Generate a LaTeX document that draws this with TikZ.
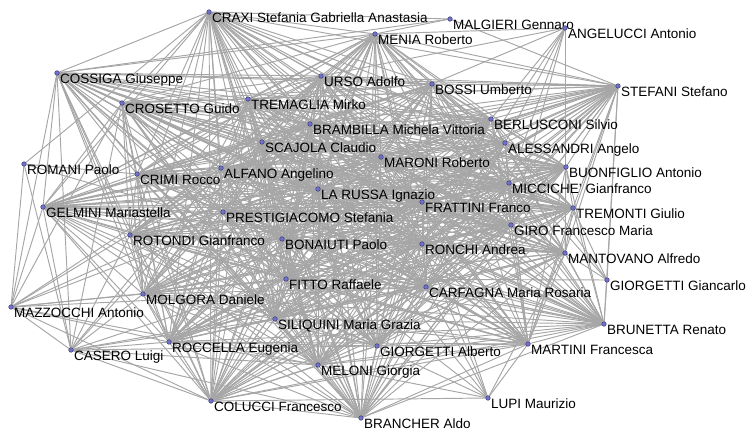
\documentclass[tikz,border=0pt]{standalone}
\usepackage{fontspec}
\setmainfont{Liberation Sans}
\usetikzlibrary{backgrounds}

\definecolor{edgegray}{RGB}{166,166,166}
\definecolor{dotfill}{RGB}{112,114,200}
\definecolor{dotline}{RGB}{50,50,110}

\tikzset{
  dot/.style={circle, fill=dotfill, draw=dotline, line width=0.4pt, inner sep=0pt, minimum size=4.6pt},
  lbl/.style={anchor=north west, inner sep=0pt, font=\fontsize{13.5}{15}\selectfont, text height=9.7pt, text depth=3pt},
  edge/.style={draw=edgegray, line width=0.95pt}
}

\newcommand{\pers}[4]{%
  \node[dot] (#1) at (#2,#3) {};
  \node[lbl] (#1-t) at ([xshift=3pt,yshift=-0.5pt]#1.center) {#4};}

\def\core{craxi,menia,cossiga,urso,bossi,stefani,crosetto,tremaglia,brambilla,berlusconi,scajola,alessandri,crimi,alfano,maroni,buonfiglio,micciche,larussa,frattini,gelmini,prestigiacomo,tremonti,giro,rotondi,bonaiuti,ronchi,mantovano,fitto,carfagna,molgora,siliquini,brunetta,roccella,giorgettial,martini,meloni,colucci,brancher}

\begin{document}
\begin{tikzpicture}[x=1pt, y=-1pt]
\useasboundingbox (0,0) rectangle (748,433);

\pers{craxi}{209}{12}{CRAXI Stefania Gabriella Anastasia}
\pers{malgieri}{450}{19}{MALGIERI Gennaro}
\pers{menia}{375}{34}{MENIA Roberto}
\pers{angelucci}{565}{28}{ANGELUCCI Antonio}
\pers{cossiga}{57}{73}{COSSIGA Giuseppe}
\pers{urso}{321}{76}{URSO Adolfo}
\pers{bossi}{432}{84}{BOSSI Umberto}
\pers{stefani}{618}{86}{STEFANI Stefano}
\pers{crosetto}{122}{103}{CROSETTO Guido}
\pers{tremaglia}{248}{99}{TREMAGLIA Mirko}
\pers{brambilla}{310}{124}{BRAMBILLA Michela Vittoria}
\pers{berlusconi}{491}{119}{BERLUSCONI Silvio}
\pers{scajola}{262}{142}{SCAJOLA Claudio}
\pers{alessandri}{505}{143}{ALESSANDRI Angelo}
\pers{romani}{24}{164}{ROMANI Paolo}
\pers{crimi}{137}{174}{CRIMI Rocco}
\pers{alfano}{221}{168}{ALFANO Angelino}
\pers{maroni}{381}{157}{MARONI Roberto}
\pers{buonfiglio}{566}{167}{BUONFIGLIO Antonio}
\pers{micciche}{509}{183}{MICCICHE' Gianfranco}
\pers{larussa}{318}{189}{LA RUSSA Ignazio}
\pers{frattini}{422}{202}{FRATTINI Franco}
\pers{gelmini}{43}{207}{GELMINI Mariastella}
\pers{prestigiacomo}{223}{212}{PRESTIGIACOMO Stefania}
\pers{tremonti}{573}{208}{TREMONTI Giulio}
\pers{giro}{511}{225}{GIRO Francesco Maria}
\pers{rotondi}{130}{235}{ROTONDI Gianfranco}
\pers{bonaiuti}{282}{239}{BONAIUTI Paolo}
\pers{ronchi}{422}{244}{RONCHI Andrea}
\pers{mantovano}{565}{253}{MANTOVANO Alfredo}
\pers{giorgettigc}{607}{280}{GIORGETTI Giancarlo}
\pers{fitto}{286}{279}{FITTO Raffaele}
\pers{carfagna}{426}{287}{CARFAGNA Maria Rosaria}
\pers{molgora}{143}{294}{MOLGORA Daniele}
\pers{mazzocchi}{11}{307}{MAZZOCCHI Antonio}
\pers{siliquini}{275}{319}{SILIQUINI Maria Grazia}
\pers{brunetta}{604}{324}{BRUNETTA Renato}
\pers{roccella}{169}{342}{ROCCELLA Eugenia}
\pers{casero}{71}{350}{CASERO Luigi}
\pers{giorgettial}{377}{346}{GIORGETTI Alberto}
\pers{martini}{528}{344}{MARTINI Francesca}
\pers{meloni}{318}{365}{MELONI Giorgia}
\pers{colucci}{211}{401}{COLUCCI Francesco}
\pers{lupi}{488}{398}{LUPI Maurizio}
\pers{brancher}{361}{418}{BRANCHER Aldo}

\begin{pgfonlayer}{background}
\foreach \a [count=\i] in \core {
  \foreach \b [count=\j] in \core {
    \ifnum\j>\i \draw[edge] (\a) -- (\b); \fi
  }
}
\foreach \a/\b in {romani/mazzocchi, romani/casero, romani/craxi, romani/crimi, romani/bonaiuti,
  mazzocchi/gelmini, mazzocchi/casero, mazzocchi/colucci, mazzocchi/roccella, mazzocchi/molgora,
  mazzocchi/crosetto, mazzocchi/cossiga, mazzocchi/alfano, mazzocchi/larussa, mazzocchi/fitto,
  mazzocchi/meloni, mazzocchi/prestigiacomo, mazzocchi/carfagna, mazzocchi/brambilla,
  casero/cossiga, casero/gelmini, casero/crosetto, casero/rotondi, casero/molgora, casero/roccella,
  casero/colucci, casero/meloni, casero/alfano, casero/fitto, casero/siliquini, casero/brancher,
  casero/giorgettial, casero/carfagna, casero/scajola,
  malgieri/craxi, malgieri/menia, malgieri/stefani, malgieri/cossiga,
  angelucci/menia, angelucci/bossi, angelucci/berlusconi, angelucci/alessandri, angelucci/micciche,
  angelucci/mantovano, angelucci/giro, angelucci/ronchi, angelucci/urso,
  giorgettigc/stefani, giorgettigc/fitto, giorgettigc/mantovano, giorgettigc/bossi,
  giorgettigc/tremonti, giorgettigc/brunetta, giorgettigc/berlusconi,
  lupi/colucci, lupi/martini, lupi/giorgettial, lupi/frattini, lupi/ronchi, lupi/meloni,
  lupi/carfagna, lupi/bonaiuti, lupi/larussa, lupi/mantovano}
  \draw[edge] (\a) -- (\b);
\end{pgfonlayer}

\end{tikzpicture}
\end{document}
